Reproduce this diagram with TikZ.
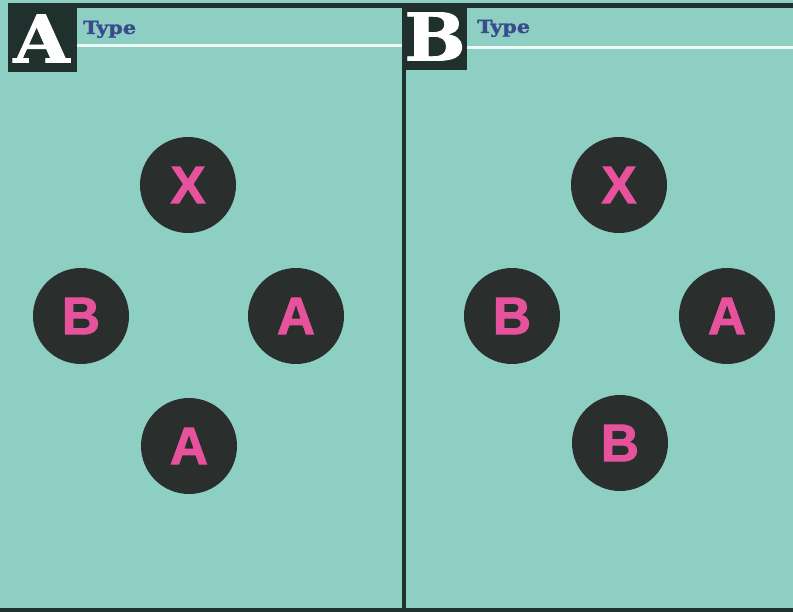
\documentclass[tikz,border=0pt]{standalone}
\usepackage{fontspec}
\setmainfont{DejaVu Serif}
\newfontfamily\btnfont[FakeBold=1.6]{Liberation Sans Bold}
\newfontfamily\tagfont[FakeBold=1.2]{DejaVu Serif Bold}
\newfontfamily\typefont[FakeBold=1.4]{DejaVu Serif Bold}
\usetikzlibrary{positioning}
\definecolor{panelbg}{HTML}{8DCFC3}
\definecolor{inkdark}{HTML}{1F302D}
\definecolor{btndark}{HTML}{2A2E2C}
\definecolor{btnpink}{HTML}{E6529C}
\definecolor{typeblue}{HTML}{3B4A8C}
\definecolor{rulewhite}{HTML}{EEF7F2}

\begin{document}
\begin{tikzpicture}[x=1pt, y=-1pt,
	btn/.style={shape=circle, fill=btndark, minimum size=96pt, inner sep=0pt, text=btnpink, font=\btnfont\fontsize{53}{53}\selectfont},
	tagbox/.style={shape=rectangle, fill=inkdark, inner sep=0pt, text=white},
	taglabel/.style={inner sep=0pt, text=white, xscale=1.1, font=\tagfont\fontsize{66}{66}\selectfont},
	typelabel/.style={anchor=base west, inner sep=0pt, text=typeblue, xscale=1.15, font=\typefont\fontsize{18}{18}\selectfont},
	darkline/.style={draw=inkdark, line width=4.5pt},
	whiteline/.style={draw=rulewhite, line width=3pt}]
	% Background and frame:
	\fill[panelbg] (0, 0) rectangle (793, 612);
	\useasboundingbox (0, 0) rectangle (793, 612);
	\draw[darkline] (8, 5.5) -- (793, 5.5);
	\draw[darkline] (0, 610) -- (793, 610);
	\draw[darkline] (404, 3) -- (404, 612);
	\draw[whiteline] (77, 46) -- (402, 46);
	\draw[whiteline] (467, 47.5) -- (793, 47.5);
	% Panel headers:
	\node[tagbox, minimum width=69pt, minimum height=69pt] (tagA) at (42.5, 37.5){};
	\node[taglabel] (letterA) at (41.5, 38.5){A};
	\node[typelabel] (typeA) at (83, 34){Type};
	\node[tagbox, minimum width=64pt, minimum height=67pt] (tagB) at (435, 36.5){};
	\node[taglabel] (letterB) at (435, 36.5){B};
	\node[typelabel] (typeB) at (477, 33){Type};
	% Buttons, type A:
	\node[btn] (btnAx) at (188, 185){X};
	\node[btn] (btnAb) at (81, 316){B};
	\node[btn] (btnAa) at (296, 316){A};
	\node[btn] (btnAlow) at (189, 446){A};
	% Buttons, type B:
	\node[btn] (btnBx) at (619, 185){X};
	\node[btn] (btnBb) at (512, 316){B};
	\node[btn] (btnBa) at (727, 316){A};
	\node[btn] (btnBlow) at (620, 443){B};
\end{tikzpicture}
\end{document}
